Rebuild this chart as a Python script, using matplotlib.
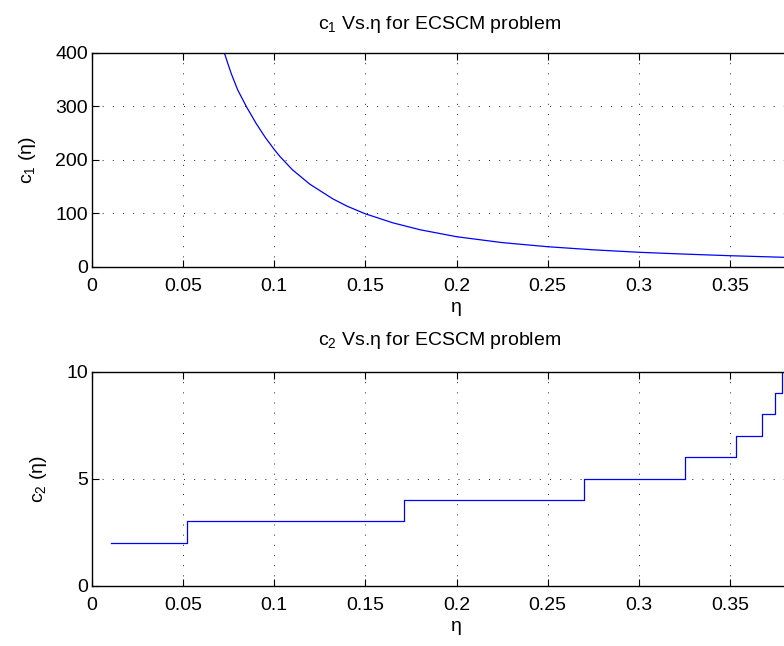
import matplotlib
matplotlib.use('Agg')
import matplotlib.pyplot as plt

plt.rcParams['font.family'] = ['Liberation Sans', 'DejaVu Sans']
plt.rcParams['mathtext.fontset'] = 'custom'
plt.rcParams['mathtext.rm'] = 'Liberation Sans'
plt.rcParams['mathtext.it'] = 'Liberation Sans:italic'

# c1(eta)
eta1 = [0.0726, 0.0745, 0.0765, 0.0800, 0.0849, 0.090, 0.095, 0.100, 0.1031, 0.110,
        0.1196, 0.132, 0.140, 0.1498, 0.165, 0.18, 0.2, 0.225, 0.25, 0.275, 0.3,
        0.325, 0.35, 0.3796]
c1 = [400, 380, 360, 330, 298, 268, 242, 219, 206, 181,
      154, 127, 113, 99, 82, 69, 56, 45, 37.3, 31.5, 26.9,
      23.5, 20.5, 17.5]

# c2(eta) step function: value holds from each edge to the next
eta2 = [0.0104, 0.0523, 0.1712, 0.2699, 0.3255, 0.3535, 0.3676, 0.3745, 0.3786, 0.381]
c2 = [2, 3, 4, 5, 6, 7, 8, 9, 10, 10]

xticks = [0, 0.05, 0.1, 0.15, 0.2, 0.25, 0.3, 0.35]
xticklabels = ['0', '0.05', '0.1', '0.15', '0.2', '0.25', '0.3', '0.35']
yticks1 = [0, 100, 200, 300, 400]
yticks2 = [0, 5, 10]

fig = plt.figure(figsize=(7.84, 6.46), dpi=100)
ax1 = fig.add_axes([0.1173, 0.5872, 0.930, 0.3313])
ax2 = fig.add_axes([0.1173, 0.0936, 0.930, 0.3313])

FS = 14


def style(ax, yticks):
    ax.set_xlim(0, 0.4)
    ax.set_xticks(xticks)
    ax.set_xticklabels(xticklabels)
    ax.set_yticks(yticks)
    ax.set_ylim(yticks[0], yticks[-1])
    ax.grid(True, color='black', linestyle=(0, (1.2, 11)), linewidth=0.6)
    ax.tick_params(direction='in', top=True, right=True, labelsize=FS, length=5, width=0.8)
    ax.tick_params(axis='x', pad=8)
    ax.tick_params(axis='y', pad=3)
    for s in ax.spines.values():
        s.set_linewidth(1.0)


ax1.plot(eta1, c1, color='#0000ff', linewidth=0.9)
style(ax1, yticks1)
ax1.set_title('c$_1$ Vs.η for ECSCM problem', fontsize=FS, x=(440 - 92) / 729, pad=17)
ax1.set_xlabel('η', fontsize=FS, labelpad=3)
ax1.set_ylabel('c$_1$ (η)', fontsize=FS, labelpad=12)

ax2.step(eta2, c2, where='post', color='#0000ff', linewidth=0.9)
style(ax2, yticks2)
ax2.set_title('c$_2$ Vs.η for ECSCM problem', fontsize=FS, x=(440 - 92) / 729, pad=19)
ax2.set_xlabel('η', fontsize=FS, labelpad=3)
ax2.set_ylabel('c$_2$ (η)', fontsize=FS, labelpad=12)

fig.savefig('out.png', dpi=100)
